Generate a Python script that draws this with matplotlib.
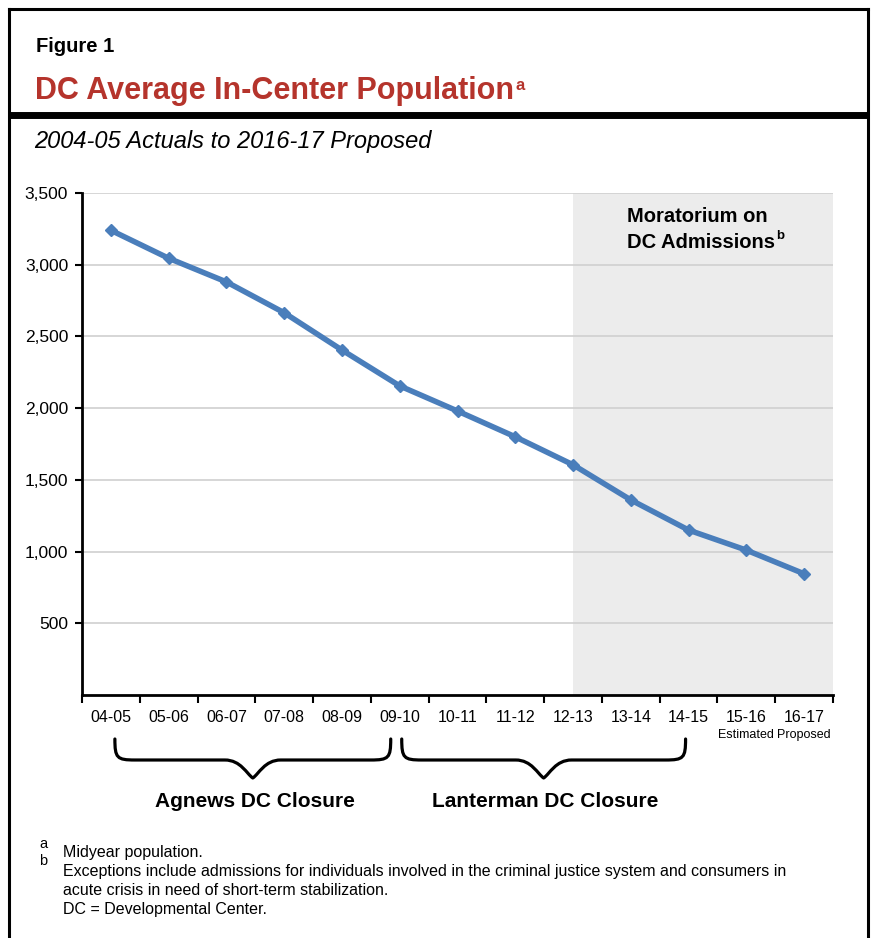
import matplotlib
matplotlib.use("Agg")
import matplotlib.pyplot as plt
from matplotlib.path import Path
from matplotlib.patches import PathPatch
from matplotlib.lines import Line2D
import numpy as np

plt.rcParams['font.family'] = ['Liberation Sans', 'DejaVu Sans']

categories = ["04-05", "05-06", "06-07", "07-08", "08-09", "09-10", "10-11",
              "11-12", "12-13", "13-14", "14-15", "15-16", "16-17"]
sublabels = ["", "", "", "", "", "", "", "", "", "", "", "Estimated", "Proposed"]
population = [3240, 3045, 2880, 2665, 2405, 2155, 1980, 1800, 1605, 1360, 1150, 1010, 845]
yticks = [500, 1000, 1500, 2000, 2500, 3000, 3500]
moratorium_start = "12-13"
brace_groups = [("Agnews DC Closure", "04-05", "09-10"),
                ("Lanterman DC Closure", "09-10", "14-15")]

W, H = 875, 938
fig = plt.figure(figsize=(W / 100, H / 100), dpi=100)
renderer = fig.canvas.get_renderer()

def fx(px):
    return px / W

def fy(py):
    return 1 - py / H

def right_edge_px(t):
    bb = t.get_window_extent(renderer=renderer)
    return bb.x1

# frame
fig.add_artist(Line2D([fx(9), fx(9)], [fy(9), 0], color='black', lw=2.2))
fig.add_artist(Line2D([fx(868), fx(868)], [fy(9), 0], color='black', lw=2.2))
fig.add_artist(Line2D([fx(9), fx(868)], [fy(9), fy(9)], color='black', lw=2.2))
fig.add_artist(Line2D([fx(9), fx(868)], [fy(115), fy(115)], color='black', lw=5,
                      solid_capstyle='butt'))

fig.text(fx(36), fy(47), "Figure 1", fontsize=14.5, fontweight='bold', va='center', ha='left')
t = fig.text(fx(35), fy(91), "DC Average In-Center Population", fontsize=22, fontweight='bold',
             color='#b5342c', va='center', ha='left')
xr = right_edge_px(t)
fig.text((xr + 2) / W, fy(86), "a", fontsize=12, fontweight='bold', color='#b5342c',
         va='center', ha='left')
fig.text(fx(34), fy(141), "2004-05 Actuals to 2016-17 Proposed", fontsize=17, style='italic',
         va='center', ha='left')

# axes
left, right, top, bottom = 82, 833, 193, 695
ax = fig.add_axes([fx(left), fy(bottom), fx(right - left), (bottom - top) / H])
n = len(categories)
x = np.arange(n)
ax.set_xlim(-0.5, n - 0.5)
ax.set_ylim(0, 3500)

ms = categories.index(moratorium_start)
ax.axvspan(ms, n - 0.5, color='#ececec', zorder=0, lw=0)

for v in yticks:
    ax.axhline(v, color='#d0d0d0', lw=1.2, zorder=1)

ax.plot(x, population, color='#4a7ebb', lw=4, marker='D', ms=6.5, zorder=3)

ax.set_yticks(yticks)
ax.set_yticklabels([f"{v:,}" for v in yticks], fontsize=12.5)
ax.set_xticks(np.arange(-0.5, n, 1))
ax.set_xticklabels([])
for i, (c, s) in enumerate(zip(categories, sublabels)):
    ax.text(i, -0.03, c, transform=ax.get_xaxis_transform(), ha='center', va='top', fontsize=11.5)
    if s:
        ax.text(i, -0.068, s, transform=ax.get_xaxis_transform(), ha='center', va='top', fontsize=9)

for s in ['top', 'right']:
    ax.spines[s].set_visible(False)
for s in ['left', 'bottom']:
    ax.spines[s].set_linewidth(2)
ax.tick_params(axis='y', length=5, width=1.5, pad=5)
ax.tick_params(axis='x', length=6, width=1.5)

# moratorium label
m1 = fig.text(fx(627), fy(217), "Moratorium on", fontsize=14.5, fontweight='bold',
              va='center', ha='left')
m2 = fig.text(fx(627), fy(242), "DC Admissions", fontsize=14.5, fontweight='bold',
              va='center', ha='left')
xr2 = right_edge_px(m2)
fig.text((xr2 + 1) / W, fy(236), "b", fontsize=9.5, fontweight='bold', va='center', ha='left')

# braces
def brace(x0, x1, ytop, ymid, ytip):
    xm = (x0 + x1) / 2
    r = 14
    verts = [(x0, ytop), (x0, ymid - 2), (x0 + 2, ymid), (x0 + r + 6, ymid),
             (xm - 28, ymid),
             (xm - 12, ymid), (xm - 6, ytip - 4), (xm, ytip),
             (xm + 6, ytip - 4), (xm + 12, ymid), (xm + 28, ymid),
             (x1 - r - 6, ymid), (x1 - 2, ymid), (x1, ymid - 2), (x1, ytop)]
    codes = [Path.MOVETO, Path.CURVE4, Path.CURVE4, Path.CURVE4,
             Path.LINETO,
             Path.CURVE4, Path.CURVE4, Path.CURVE4,
             Path.CURVE4, Path.CURVE4, Path.CURVE4,
             Path.LINETO, Path.CURVE4, Path.CURVE4, Path.CURVE4]
    vv = [(fx(a), fy(b)) for a, b in verts]
    p = PathPatch(Path(vv, codes), facecolor='none', edgecolor='black', lw=2.3,
                  transform=fig.transFigure, capstyle='round', joinstyle='round')
    fig.add_artist(p)

step = (right - left) / n
def cx(cat):
    return left + (categories.index(cat) + 0.5) * step

for i, (label, c0, c1) in enumerate(brace_groups):
    if i == 0:
        x0, x1 = cx(c0) + 4, cx(c1) - 9
    else:
        x0, x1 = cx(c0) + 2, cx(c1) - 3
    brace(x0, x1, 739, 760, 778)
    fig.text(fx((x0 + x1) / 2 + 2), fy(801), label, ha='center', va='center', fontsize=15,
             fontweight='bold')

# footnotes
fs = 11.5
fig.text(fx(39), fy(844), "a", fontsize=10.5, va='center', ha='left')
fig.text(fx(39), fy(861), "b", fontsize=10.5, va='center', ha='left')
fig.text(fx(63), fy(852), "Midyear population.", fontsize=fs, va='center', ha='left')
fig.text(fx(63), fy(871), "Exceptions include admissions for individuals involved in the criminal justice system and consumers in",
         fontsize=fs, va='center', ha='left')
fig.text(fx(63), fy(890), "acute crisis in need of short-term stabilization.", fontsize=fs, va='center', ha='left')
fig.text(fx(63), fy(909), "DC = Developmental Center.", fontsize=fs, va='center', ha='left')

fig.savefig("out.png", dpi=100)
